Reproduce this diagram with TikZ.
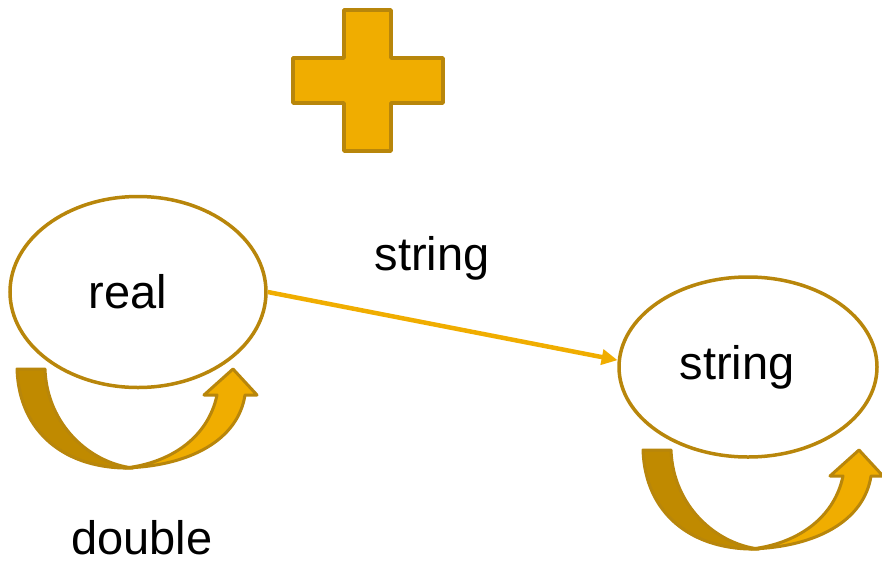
\documentclass[tikz,border=0pt]{standalone}
\usepackage{fontspec}
\setmainfont{Liberation Sans}
\usetikzlibrary{shapes.geometric,arrows.meta}
\definecolor{gold}{RGB}{240,173,0}
\definecolor{darkgold}{RGB}{192,138,0}
\definecolor{rim}{RGB}{184,134,11}
\tikzset{
  typenode/.style={draw=rim, line width=3.5pt, ellipse, inner sep=0pt},
  bigtext/.style={font=\fontsize{47}{56}\selectfont},
  loopback/.pic={
    % dark back of the curved arrow
    \filldraw[fill=darkgold, draw=rim, line width=3pt, line join=round]
      (17,369) -- (45,369) .. controls (47,425) and (90,463) .. (133,468)
      .. controls (65,470) and (19,432) .. (17,369) -- cycle;
    % light front with the head
    \filldraw[fill=gold, draw=rim, line width=3pt, line join=round]
      (125,468) .. controls (190,466) and (238,440) .. (245,395)
      -- (257,395) -- (233,369) -- (204,395) -- (217,395)
      .. controls (208,438) and (170,463) .. (125,468) -- cycle;
  }
}
\begin{document}
\begin{tikzpicture}[x=1pt,y=-1pt]
  \useasboundingbox (0,0) rectangle (882,562);

  % plus sign
  \filldraw[fill=gold, draw=rim, line width=3.5pt, line join=round]
    (344,10) -- (391,10) -- (391,58) -- (443,58) -- (443,103) -- (391,103)
    -- (391,151) -- (344,151) -- (344,103) -- (293,103) -- (293,58)
    -- (344,58) -- cycle;

  \node[typenode, minimum width=256pt, minimum height=191pt, bigtext] (real) at (138,292) {\hspace*{-20pt}real};
  \node[typenode, minimum width=258pt, minimum height=180pt, bigtext] (str) at (748,367) {\hspace*{-22pt}string};

  \draw[gold, line width=4.5pt, -{Triangle[length=16pt,width=15pt]}] (real.east) -- (str.177);
  \node[bigtext] (conv) at (432,258) {string};

  \pic at (0,0) {loopback};
  \pic at (626,81) {loopback};
  \node[bigtext, inner sep=0pt] (dbl) at (142,538) {double};
\end{tikzpicture}
\end{document}
